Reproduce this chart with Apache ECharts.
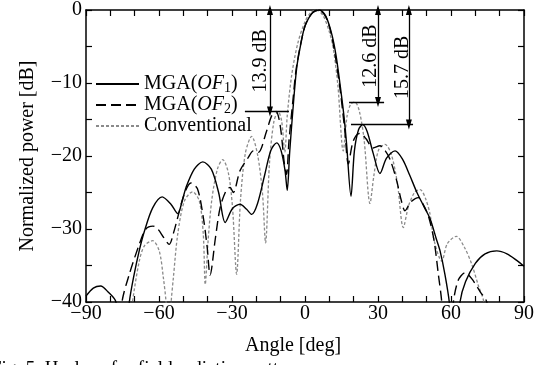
<!DOCTYPE html>
<html><head><meta charset="utf-8">
<script src="https://cdn.jsdelivr.net/npm/echarts@6/dist/echarts.min.js"></script>
<style>html,body{margin:0;padding:0;background:#fff}#c{width:552px;height:365px}</style>
</head><body><div id="c"></div><script>
// ---- data: [angle deg, normalized power dB] ----
const seriesNames = ['MGA(OF1)', 'MGA(OF2)', 'Conventional'];
const of1 = [[-90,-39.2],[-87,-38.1],[-84,-37.8],[-81,-38.6],[-77.7,-40],[-75,-48],[-72.2,-40],[-70.5,-36.7],[-68,-32.8],[-66,-30.3],[-62.6,-27.1],[-58.7,-25.6],[-55.1,-26.6],[-52.3,-27.9],[-50.5,-26.2],[-48.9,-24.3],[-45.5,-21.8],[-42,-20.8],[-38.5,-21.8],[-35.5,-25],[-32.8,-29.1],[-29.8,-27.2],[-26.7,-26.6],[-24,-27.3],[-21.9,-28],[-19.5,-26.5],[-16.5,-22.5],[-14,-19.2],[-11.6,-18.2],[-9.8,-19.3],[-8.2,-22],[-7.3,-24.7],[-6.3,-19.5],[-5,-13.8],[-3.4,-7.9],[-1.5,-4.3],[0,-2.2],[3,-0.4],[5.9,0],[8.5,-0.8],[11,-3.3],[12.8,-6.3],[14.4,-10.2],[16,-14.5],[17.1,-18.4],[18.9,-25.5],[20.3,-19.3],[22,-16.4],[23.7,-15.7],[25.5,-16.6],[28,-19.6],[30.8,-22.4],[33.5,-20.3],[37,-19.3],[40,-20.4],[43,-22.6],[46,-25],[49,-27],[51.4,-28.6],[54,-31.4],[55.5,-33],[57.5,-36.2],[59.3,-40],[61.5,-48],[63.7,-40],[66,-37.2],[70,-34.7],[74,-33.4],[78.8,-33.0],[83,-33.4],[87,-34.3],[90,-35.1]];
const of2 = [[-77,-48],[-75.2,-40],[-72.2,-36.2],[-68.1,-32.1],[-65.4,-30],[-62.5,-29.6],[-60.5,-30],[-58,-31.2],[-55.8,-32.1],[-54,-30.5],[-52.3,-28.4],[-49.6,-25.2],[-46.9,-23.7],[-44.2,-24.5],[-41.8,-28.4],[-40.2,-32.5],[-39,-36.3],[-36.8,-31.2],[-34.9,-27.1],[-32.5,-24.8],[-30.8,-24.3],[-29.5,-25],[-26.7,-22],[-23.3,-20.2],[-21.2,-19.3],[-19.2,-19.5],[-15.8,-16.6],[-13.7,-14.5],[-11.9,-13.9],[-10.2,-15.8],[-8.5,-21],[-7.6,-22.5],[-6.6,-18],[-5,-12.5],[-3.4,-7.6],[0,-2.2],[3,-0.4],[5.6,0],[8.5,-0.9],[11,-3.6],[14,-9.8],[16.3,-16.3],[17.8,-21.1],[19.5,-18.3],[21,-17.2],[22.6,-16.9],[25,-17.6],[28,-18.9],[30.8,-18.6],[33,-19.3],[35,-20.5],[37.7,-23.4],[39.5,-26],[41.1,-27.5],[43.5,-26.3],[46.6,-25.7],[48.5,-26.6],[50.7,-28.2],[53,-31.5],[54.8,-36.2],[56.2,-40],[58.5,-50],[61,-40],[63,-37],[65.8,-36],[68.5,-36.8],[72,-38.6],[74.7,-40],[77,-46]];
const conventional = [[-73,-46],[-70.9,-40],[-68.1,-34.4],[-66,-32.3],[-62.6,-31.6],[-59.9,-33],[-58.2,-36.7],[-57.1,-40],[-56,-46],[-55,-40],[-54.1,-36.7],[-52.3,-30.7],[-49.6,-26.2],[-46.2,-24.9],[-43.4,-26.2],[-41.8,-30.7],[-41,-37.6],[-39.8,-31.5],[-38.3,-26],[-36,-21.8],[-33.8,-20.5],[-31.5,-22.3],[-29.8,-27],[-28.1,-36.2],[-26.5,-26],[-24.5,-19.6],[-21.9,-17.3],[-19.5,-19.8],[-17.5,-25],[-16.2,-31.9],[-14.6,-21],[-12.8,-15.3],[-11,-13.9],[-9.6,-15.2],[-8.3,-19.5],[-7.3,-14.5],[-5.5,-9],[-3,-4.6],[0,-1.6],[2.5,-0.3],[4.8,0],[7.5,-0.8],[10,-3],[11.6,-5.2],[13.5,-10.3],[15.7,-19.3],[17.3,-14.5],[18.8,-12.9],[20.5,-12.6],[22.3,-13.8],[24.3,-17.8],[26.7,-26.5],[28.3,-22.7],[30.2,-19.2],[32.9,-18.4],[35.5,-19.8],[38,-23.8],[40.4,-29.8],[42.6,-26.8],[45,-25],[47.3,-24.6],[49.5,-25.8],[51.4,-28],[53,-31.5],[56.2,-34.4],[58.5,-32],[62.2,-31],[65.5,-32.5],[68.5,-34.8],[71.3,-37.8],[73.5,-40],[75,-45]];
// sidelobe-level annotations: level (dB), arrow angle, horizontal line from/to angle
const annotLevels = [13.9, 12.6, 15.7];
const annotArrowAngle = [-14.4, 30, 42.7];
const annotLineFrom = [-24.7, 18.1, 18.9];
const annotLineTo = [-6.6, 32.5, 44.4];
const xTicks = [-90, -60, -30, 0, 30, 60, 90];
const yTicks = [-40, -30, -20, -10, 0];

const FONT = 'Liberation Serif';
const fmtNum = v => v < 0 ? '\u2212' + Math.abs(v) : String(v);
const labelDist = [-1, -3, -4];

const markLineData = [];
annotLevels.forEach((lv, i) => {
  markLineData.push([
    {name: lv.toFixed(1) + ' dB', coord: [annotArrowAngle[i], -lv], symbol: 'triangle', symbolSize: [6, 10],
     label: {show: true, formatter: '{b}', position: 'insideMiddleTop', distance: labelDist[i], fontFamily: FONT, fontSize: 20, color: '#000'}},
    {coord: [annotArrowAngle[i], 0], symbol: 'triangle', symbolSize: [6, 10]}
  ]);
  markLineData.push([
    {coord: [annotLineFrom[i], -lv], symbol: 'none', label: {show: false}},
    {coord: [annotLineTo[i], -lv], symbol: 'none'}
  ]);
});

const axisCommon = {
  type: 'value', splitLine: {show: false},
  axisLine: {show: true, onZero: false, lineStyle: {color: '#000', width: 1.5}},
  axisTick: {show: true, inside: true, length: 6, lineStyle: {color: '#000', width: 1.2}}
};

const chart = echarts.init(document.getElementById('c'));
chart.setOption({
  animation: false,
  backgroundColor: '#fff',
  grid: {left: 86, right: 28, top: 9, bottom: 63},
  xAxis: [
    Object.assign({}, axisCommon, {min: -90, max: 90, interval: 10, position: 'bottom',
      axisLabel: {color: '#000', fontFamily: FONT, fontSize: 20, margin: 2,
        formatter: v => xTicks.includes(v) ? fmtNum(v) : ''},
      name: 'Angle [deg]', nameLocation: 'middle', nameGap: 34,
      nameTextStyle: {color: '#000', fontFamily: FONT, fontSize: 20, padding: [0, 24, 0, 0]}}),
    Object.assign({}, axisCommon, {min: -90, max: 90, interval: 10, position: 'top', axisLabel: {show: false}})
  ],
  yAxis: [
    Object.assign({}, axisCommon, {min: -40, max: 0, interval: 5, position: 'left',
      axisLabel: {color: '#000', fontFamily: FONT, fontSize: 20, margin: 4,
        formatter: v => yTicks.includes(v) ? fmtNum(v) : ''},
      name: 'Normalized power [dB]', nameLocation: 'middle', nameGap: 48,
      nameTextStyle: {color: '#000', fontFamily: FONT, fontSize: 20}}),
    Object.assign({}, axisCommon, {min: -40, max: 0, interval: 5, position: 'right', axisLabel: {show: false}})
  ],
  legend: {
    data: seriesNames, orient: 'vertical', left: 90, top: 69, itemWidth: 43, itemHeight: 14, itemGap: 0,
    itemStyle: {opacity: 0, borderWidth: 0},
    textStyle: {fontFamily: FONT, fontSize: 20, color: '#000',
      rich: {
        n: {fontFamily: FONT, fontSize: 20, color: '#000', lineHeight: 22},
        i: {fontFamily: FONT, fontSize: 20, fontStyle: 'italic', color: '#000', lineHeight: 22},
        s: {fontFamily: FONT, fontSize: 14, color: '#000', lineHeight: 14, verticalAlign: 'bottom'}
      }},
    formatter: name => {
      if (name === 'MGA(OF1)') return '{n|MGA(}{i|OF}{s|1}{n|)}';
      if (name === 'MGA(OF2)') return '{n|MGA(}{i|OF}{s|2}{n|)}';
      return '{n|' + name + '}';
    }
  },
  series: [
    {name: seriesNames[0], type: 'line', data: of1, symbol: 'none', smooth: 0.3, clip: true,
     lineStyle: {color: '#000', width: 1.4, type: 'solid'}, itemStyle: {color: '#000'}, z: 4},
    {name: seriesNames[1], type: 'line', data: of2, symbol: 'none', smooth: 0.3, clip: true,
     lineStyle: {color: '#000', width: 1.4, type: [10, 5]}, itemStyle: {color: '#000'}, z: 3},
    {name: seriesNames[2], type: 'line', data: conventional, symbol: 'none', smooth: 0.3, clip: true,
     lineStyle: {color: '#8a8a8a', width: 1.3, type: [3, 2]}, itemStyle: {color: '#8a8a8a'}, z: 2},
    {name: 'annot', type: 'line', data: [], symbol: 'none', silent: true,
     markLine: {silent: true, animation: false, data: markLineData,
       lineStyle: {color: '#000', width: 1.3, type: 'solid'}, itemStyle: {color: '#000'},
       emphasis: {disabled: true}}}
  ],
  graphic: [{type: 'text', left: -9, top: 360,
    style: {text: 'Fig. 5. H-plane far-field radiation patterns', font: '19px "Liberation Serif"', fill: '#000'}}]
});
</script></body></html>
